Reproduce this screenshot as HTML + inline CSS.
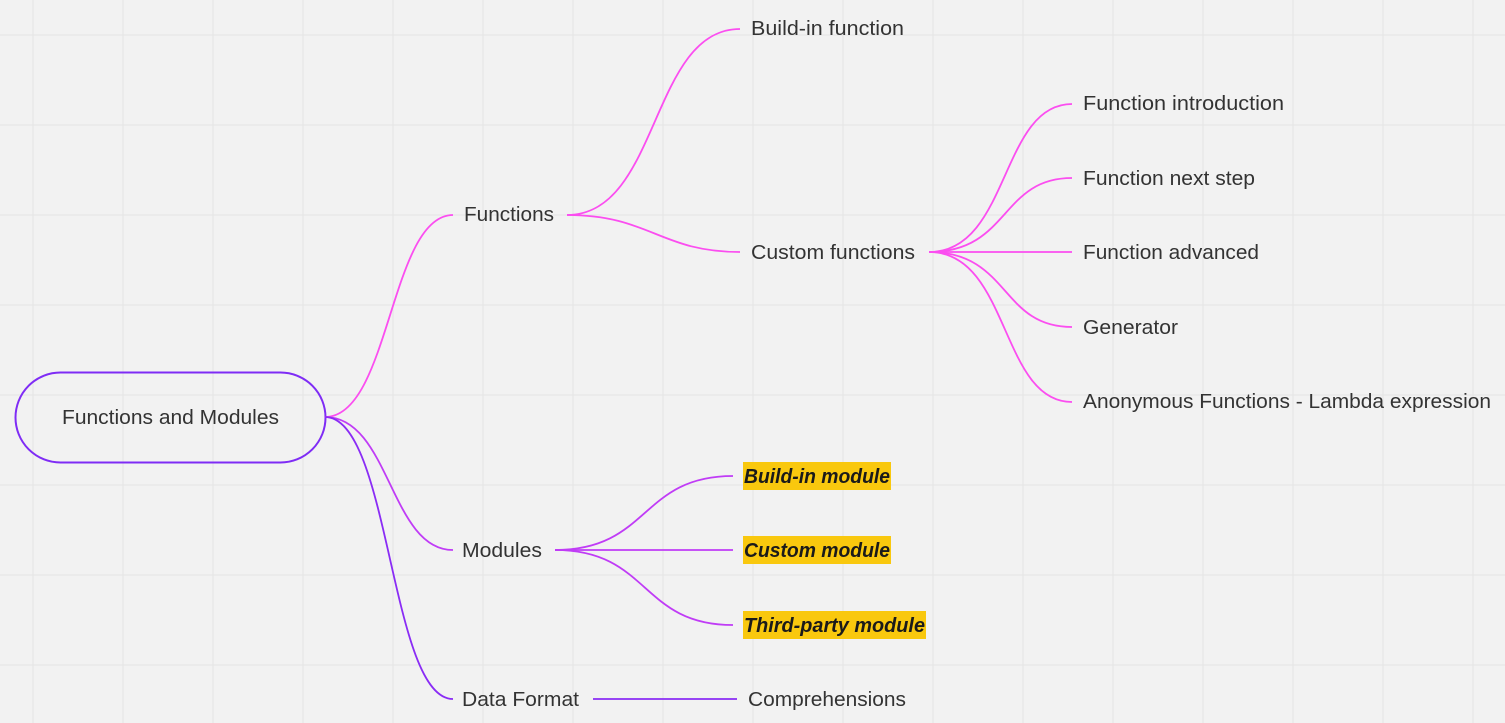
<!DOCTYPE html>
<html><head><meta charset="utf-8"><style>
html,body{margin:0;padding:0;background:#f2f2f2;}
svg{display:block;}
text{font-family:"Liberation Sans",sans-serif;font-size:20.5px;fill:#333;}
.b{font-weight:bold;font-style:italic;fill:#1a1a1a;font-size:20px;}
</style></head><body>
<svg width="1505" height="723" viewBox="0 0 1505 723" xmlns="http://www.w3.org/2000/svg">
<g stroke="#e4e4e4" stroke-width="1">
<path d="M33 0V723M123 0V723M213 0V723M303 0V723M393 0V723M483 0V723M573 0V723M663 0V723M753 0V723M843 0V723M933 0V723M1023 0V723M1113 0V723M1203 0V723M1293 0V723M1383 0V723M1473 0V723"/>
<path d="M0 35H1505M0 125H1505M0 215H1505M0 305H1505M0 395H1505M0 485H1505M0 575H1505M0 665H1505"/>
</g>
<rect x="15.5" y="372.5" width="310" height="90" rx="45" fill="none" stroke="#7f2cf5" stroke-width="2"/>
<g fill="none" stroke-width="1.8">
<path d="M325 417C390 417 390 215 453 215" stroke="#fb4ef0"/>
<path d="M325 417C390 417 390 550 453 550" stroke="#c03cf6"/>
<path d="M325 417C390 417 390 699 453 699" stroke="#8a2cf5"/>
<g stroke="#fb4ef0">
<path d="M567 215C660 215 650 29 740 29"/>
<path d="M567 215C650 215 660 252 740 252"/>
<path d="M929 252C1010 252 1000 104 1072 104"/>
<path d="M929 252C1010 252 1000 178 1072 178"/>
<path d="M929 252H1072"/>
<path d="M929 252C1010 252 1000 327 1072 327"/>
<path d="M929 252C1010 252 1000 402 1072 402"/>
</g>
<g stroke="#c03cf6">
<path d="M555 550C650 550 640 476 733 476"/>
<path d="M555 550H733"/>
<path d="M555 550C650 550 640 625 733 625"/>
</g>
<path d="M593 699H737" stroke="#8a2cf5"/>
</g>
<g fill="#f9c80e">
<rect x="743" y="462" width="148" height="28"/>
<rect x="743" y="536" width="148" height="28"/>
<rect x="743" y="611" width="183" height="28"/>
</g>
<text x="62" y="424" textLength="217" lengthAdjust="spacingAndGlyphs">Functions and Modules</text>
<text x="464" y="221" textLength="90" lengthAdjust="spacingAndGlyphs">Functions</text>
<text x="462" y="557" textLength="80" lengthAdjust="spacingAndGlyphs">Modules</text>
<text x="462" y="706" textLength="117" lengthAdjust="spacingAndGlyphs">Data Format</text>
<text x="751" y="35" textLength="153" lengthAdjust="spacingAndGlyphs">Build-in function</text>
<text x="751" y="259" textLength="164" lengthAdjust="spacingAndGlyphs">Custom functions</text>
<text x="1083" y="110" textLength="201" lengthAdjust="spacingAndGlyphs">Function introduction</text>
<text x="1083" y="185" textLength="172" lengthAdjust="spacingAndGlyphs">Function next step</text>
<text x="1083" y="259" textLength="176" lengthAdjust="spacingAndGlyphs">Function advanced</text>
<text x="1083" y="334" textLength="95" lengthAdjust="spacingAndGlyphs">Generator</text>
<text x="1083" y="408" textLength="408" lengthAdjust="spacingAndGlyphs">Anonymous Functions - Lambda expression</text>
<text class="b" x="744" y="483" textLength="146" lengthAdjust="spacingAndGlyphs">Build-in module</text>
<text class="b" x="744" y="557" textLength="146" lengthAdjust="spacingAndGlyphs">Custom module</text>
<text class="b" x="744" y="632" textLength="181" lengthAdjust="spacingAndGlyphs">Third-party module</text>
<text x="748" y="706" textLength="158" lengthAdjust="spacingAndGlyphs">Comprehensions</text>
</svg>
</body></html>
